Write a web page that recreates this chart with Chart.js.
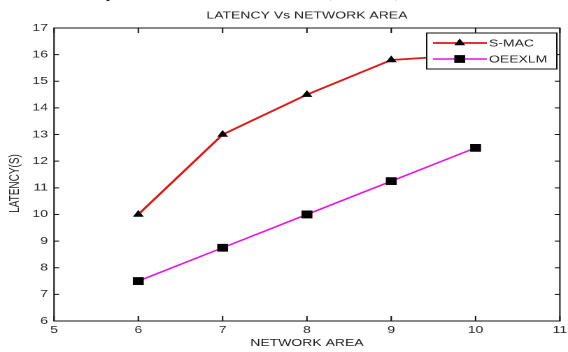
<!DOCTYPE html>
<html>
<head>
<meta charset="utf-8">
<script src="https://cdn.jsdelivr.net/npm/chart.js@4.4.0/dist/chart.umd.min.js"></script>
<style>
    html, body { margin: 0; padding: 0; background: #fff; overflow: hidden; }
    #pagina { position: relative; width: 568px; height: 352px; overflow: hidden; background: #fff; }
    /* la figura original esta estirada a lo ancho, se dibuja angosta y se estira */
    #estirado { position: absolute; left: 0; top: 0; width: 406px; height: 352px; transform: scaleX(1.399); transform-origin: 0 0; }
    .recorte { position: absolute; top: -21px; font: bold 20px "Liberation Serif", serif; line-height: 20px; color: #111; z-index: 2; }
</style>
</head>
<body>
<div id="pagina">
    <div id="estirado"><canvas id="grafico"></canvas></div>
    <span class="recorte" style="left:106px">y</span>
    <span class="recorte" style="left:325px">(</span>
    <span class="recorte" style="left:395px">)</span>
</div>
<script>
//DATOS DEL GRAFICO.
const areas = [6, 7, 8, 9, 10];
const latenciaSmac = [10, 13, 14.5, 15.8, 16];
const latenciaOeexlm = [7.5, 8.75, 10, 11.25, 12.5];
const ticksX = [5, 6, 7, 8, 9, 10, 11];
const ticksY = [6, 7, 8, 9, 10, 11, 12, 13, 14, 15, 16, 17];

const fuente = "'Liberation Sans', Arial, sans-serif";

function puntos(valores) {
    return areas.map((a, i) => ({ x: a, y: valores[i] }));
}

//PLUGIN PARA LA CAJA, LOS TICKS HACIA ADENTRO, LA LEYENDA Y EL TITULO DEL EJE Y.
const marcoMatlab = {
    id: 'marcoMatlab',
    afterDatasetsDraw(chart) {
        const ctx = chart.ctx;
        const a = chart.chartArea;
        const sx = chart.scales.x;
        const sy = chart.scales.y;
        ctx.save();
        ctx.strokeStyle = '#111';
        ctx.lineWidth = 1;
        ctx.strokeRect(a.left, a.top, a.right - a.left, a.bottom - a.top);
        ctx.beginPath();
        ticksX.forEach(v => {
            const px = sx.getPixelForValue(v);
            ctx.moveTo(px, a.bottom); ctx.lineTo(px, a.bottom - 5);
            ctx.moveTo(px, a.top); ctx.lineTo(px, a.top + 5);
        });
        ticksY.forEach(v => {
            const py = sy.getPixelForValue(v);
            ctx.moveTo(a.left, py); ctx.lineTo(a.left + 3.6, py);
            ctx.moveTo(a.right, py); ctx.lineTo(a.right - 3.6, py);
        });
        ctx.stroke();

        //Leyenda
        const lx = 305, ly = 33, lw = 93, lh = 36;
        ctx.fillStyle = '#fff';
        ctx.fillRect(lx, ly, lw, lh);
        ctx.strokeStyle = '#111';
        ctx.strokeRect(lx, ly, lw, lh);
        chart.data.datasets.forEach((ds, i) => {
            const y = ly + 10 + i * 16;
            ctx.strokeStyle = ds.borderColor;
            ctx.lineWidth = ds.borderWidth;
            ctx.beginPath();
            ctx.moveTo(lx + 4.5, y);
            ctx.lineTo(lx + 43, y);
            ctx.stroke();
            ctx.fillStyle = '#000';
            ctx.strokeStyle = '#000';
            ctx.lineWidth = 1;
            Chart.helpers.drawPoint(ctx, { pointStyle: ds.pointStyle, radius: ds.pointRadius, rotation: 0, borderWidth: 1 }, lx + 23.6, y);
            ctx.fillStyle = '#222';
            ctx.font = '10px ' + fuente;
            ctx.textBaseline = 'middle';
            ctx.textAlign = 'left';
            ctx.fillText(ds.label, lx + 44.5, y + 0.5);
        });

        //Titulo del eje Y
        ctx.translate(10.7, (a.top + a.bottom) / 2 + 9);
        ctx.rotate(-Math.PI / 2);
        ctx.fillStyle = '#222';
        ctx.font = '10px ' + fuente;
        ctx.textAlign = 'center';
        ctx.textBaseline = 'middle';
        ctx.fillText('LATENCY(S)', 0, 0);
        ctx.restore();
    }
};

const ctx = document.getElementById('grafico');
const config = {
    type: 'line',
    data: {
        datasets: [{
            label: 'S-MAC',
            data: puntos(latenciaSmac),
            borderColor: 'rgb(222,24,24)',
            borderWidth: 1.8,
            pointStyle: 'triangle',
            pointRadius: 3.5,
            pointBackgroundColor: '#000',
            pointBorderColor: '#000',
            pointBorderWidth: 1,
            tension: 0,
            fill: false
        }, {
            label: 'OEEXLM',
            data: puntos(latenciaOeexlm),
            borderColor: 'rgb(228,20,228)',
            borderWidth: 1.5,
            pointStyle: 'rect',
            pointRadius: 4.8,
            pointBackgroundColor: '#000',
            pointBorderColor: '#000',
            pointBorderWidth: 1,
            tension: 0,
            fill: false
        }]
    },
    options: {
        responsive: true,
        maintainAspectRatio: false,
        animation: false,
        devicePixelRatio: 2,
        layout: { padding: { left: 0, right: 3, top: 0, bottom: 0 } },
        plugins: {
            legend: { display: false },
            tooltip: { enabled: false },
            title: {
                display: true,
                fullSize: false,
                text: 'LATENCY Vs NETWORK AREA',
                color: '#222',
                font: { family: fuente, size: 10, weight: 'normal' },
                padding: { top: 9.7, bottom: 6.3 }
            }
        },
        scales: {
            x: {
                type: 'linear',
                min: 5,
                max: 11,
                grid: { display: false, drawTicks: false },
                border: { display: false },
                afterBuildTicks: s => { s.ticks = ticksX.map(v => ({ value: v })); },
                afterFit: s => { s.height = 31; s.paddingLeft = 0; s.paddingRight = 0; },
                ticks: {
                    color: '#2a2a2a',
                    font: { family: fuente, size: 10 },
                    padding: 3,
                    autoSkip: false,
                    maxRotation: 0
                },
                title: {
                    display: true,
                    text: 'NETWORK AREA',
                    color: '#222',
                    font: { family: fuente, size: 10 },
                    padding: { top: 0, bottom: 3 }
                }
            },
            y: {
                min: 6,
                max: 17,
                grid: { display: false, drawTicks: false },
                border: { display: false },
                afterBuildTicks: s => { s.ticks = ticksY.map(v => ({ value: v })); },
                afterFit: s => { s.width = 38.6; s.paddingTop = 0; s.paddingBottom = 0; },
                ticks: {
                    color: '#2a2a2a',
                    font: { family: fuente, size: 10 },
                    padding: 4.3,
                    autoSkip: false
                }
            }
        }
    },
    plugins: [marcoMatlab]
};
const grafico = new Chart(ctx, config);
</script>
</body>
</html>
